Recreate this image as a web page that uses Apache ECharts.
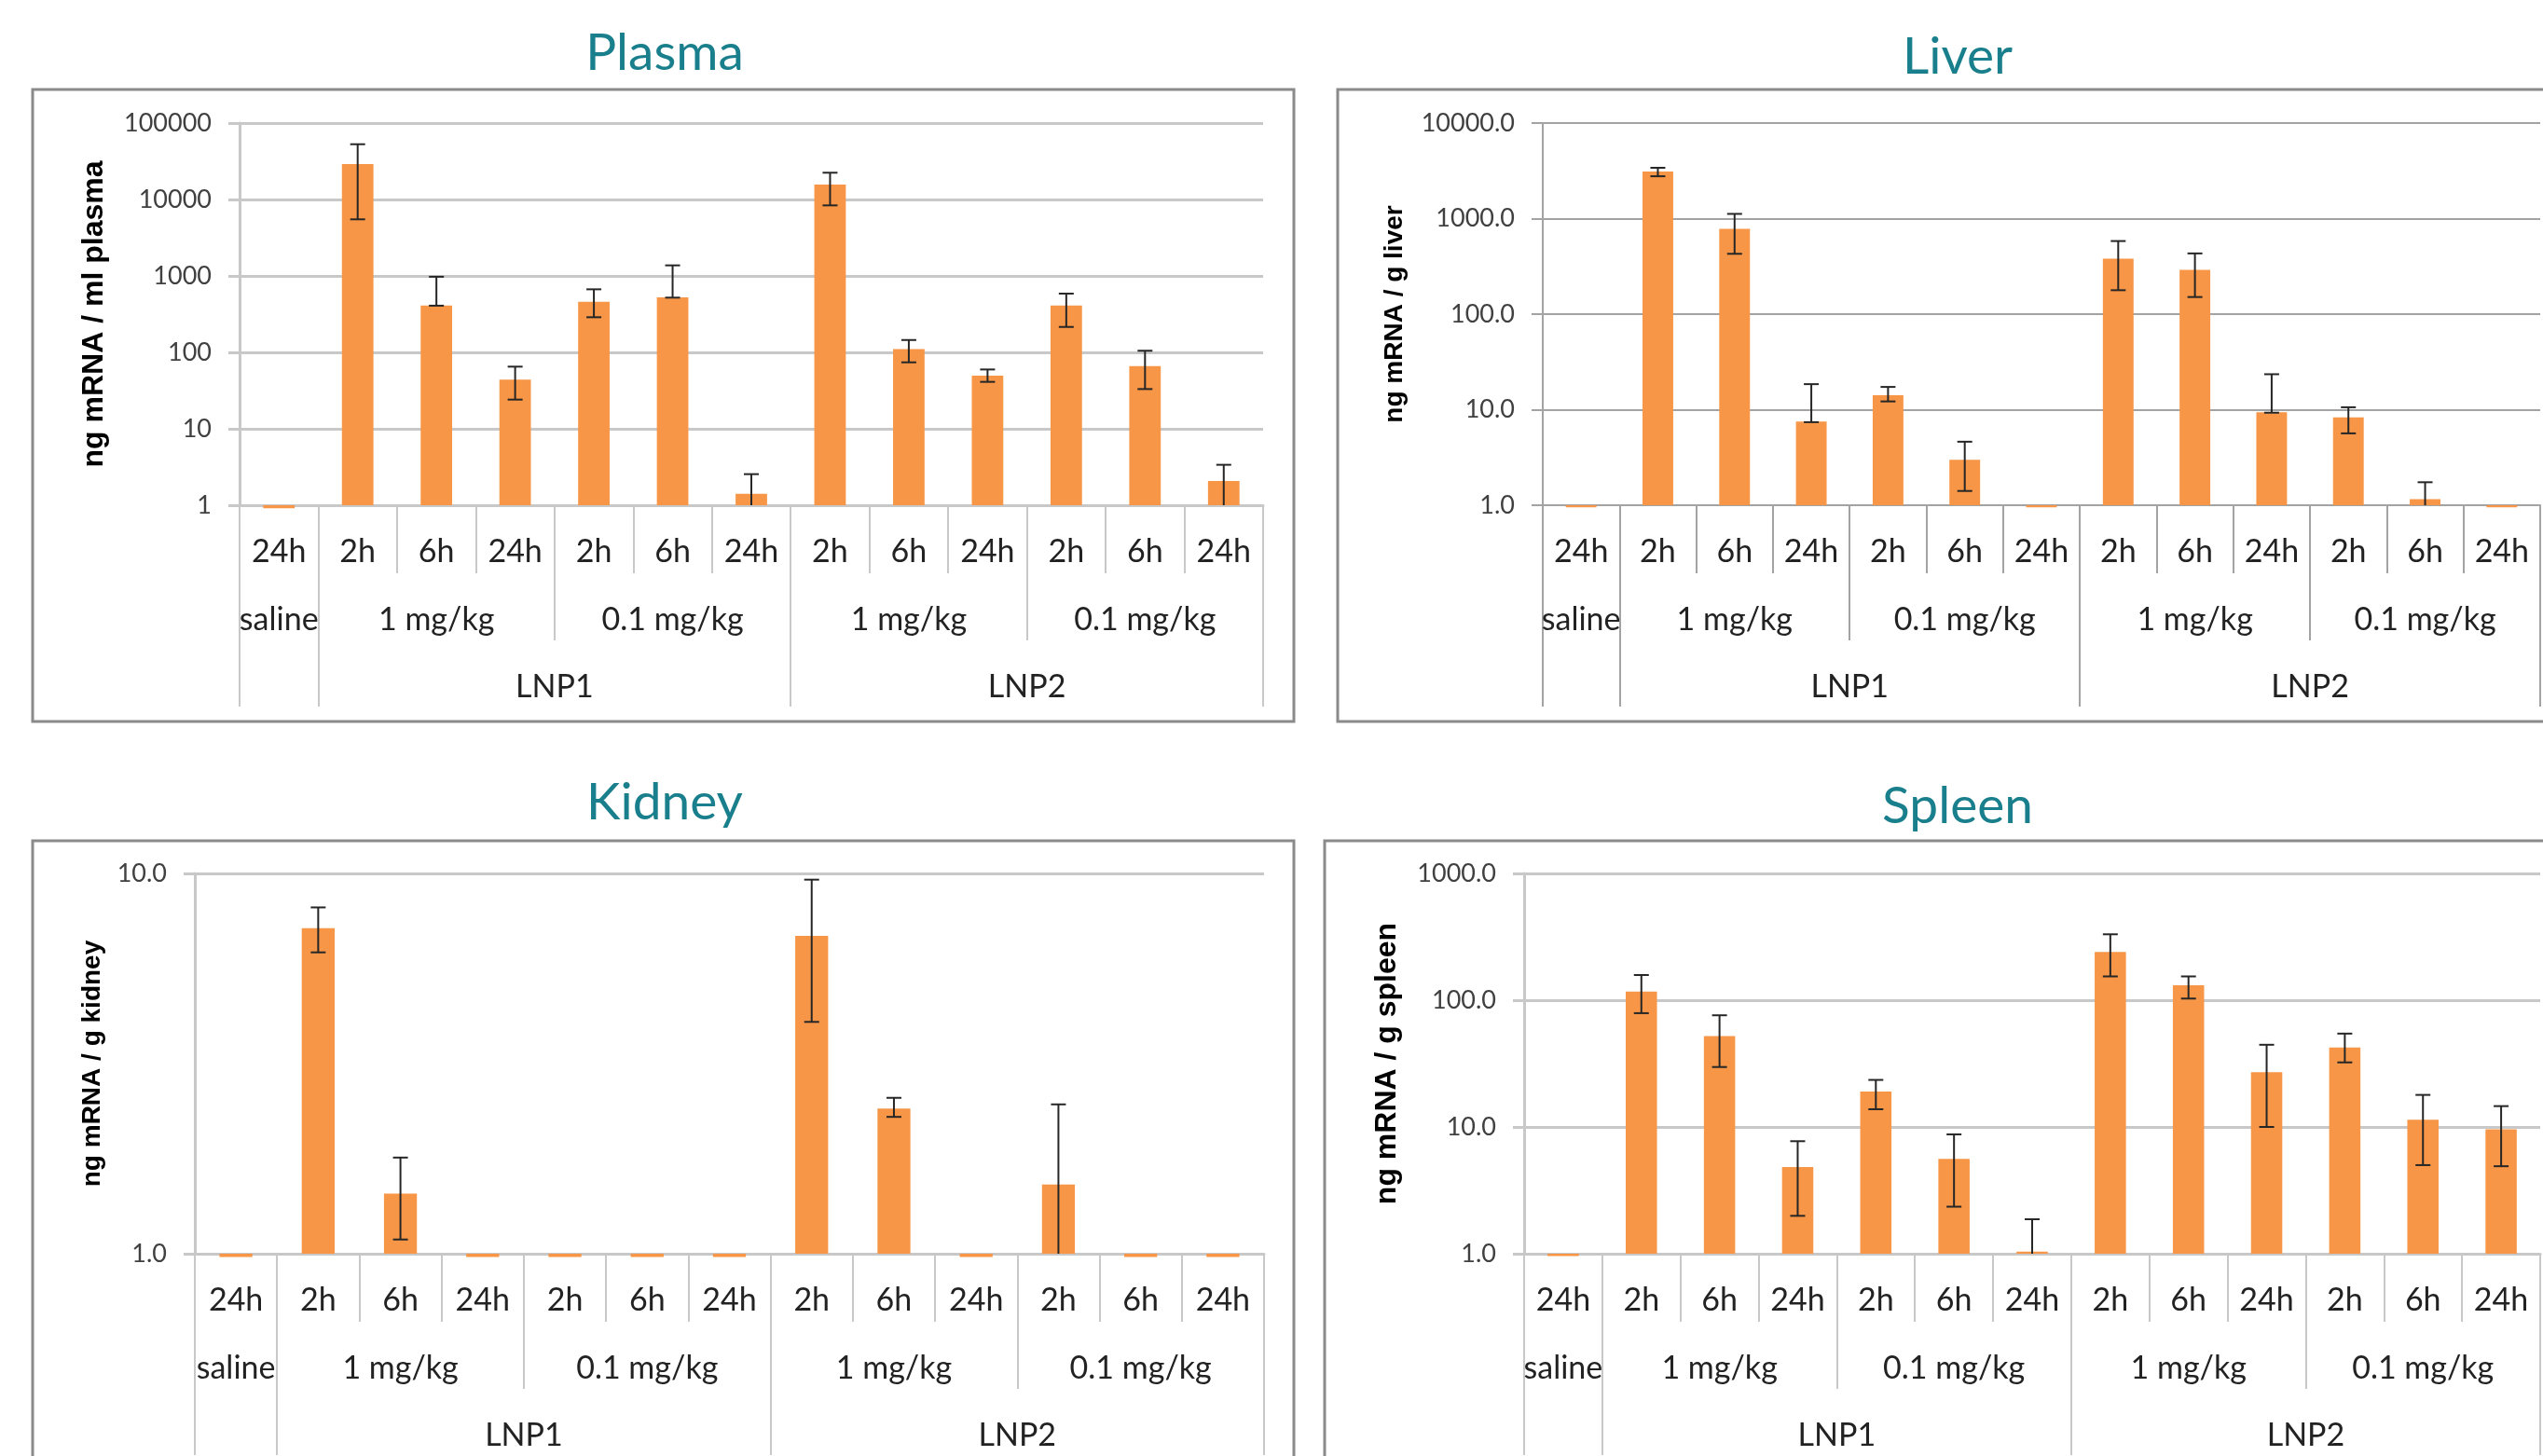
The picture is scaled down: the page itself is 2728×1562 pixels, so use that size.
<!DOCTYPE html>
<html><head><meta charset="utf-8">
<script src="https://cdn.jsdelivr.net/npm/echarts@6/dist/echarts.min.js"></script>
<style>html,body{margin:0;padding:0;background:#fff;overflow:hidden}#c{width:2728px;height:1562px}</style>
</head><body><div id="c"></div>
<script>
// ---- categories ----
const timeLabels = ['24h','2h','6h','24h','2h','6h','24h','2h','6h','24h','2h','6h','24h'];
const doseGroups = [['saline',1],['1 mg/kg',3],['0.1 mg/kg',3],['1 mg/kg',3],['0.1 mg/kg',3]];
const lnpGroups = [['',1],['LNP1',6],['LNP2',6]];

// ---- tick labels ----
const plasmaTicks = ['1','10','100','1000','10000','100000'];
const liverTicks  = ['1.0','10.0','100.0','1000.0','10000.0'];
const kidneyTicks = ['1.0','10.0'];
const spleenTicks = ['1.0','10.0','100.0','1000.0'];

// ---- values (mean, error low, error high) ----
const plasmaValues  = [0.91, 29000, 411, 43.9, 460, 525, 1.41, 15700, 110, 49.6, 411, 66.2, 2.07];
const plasmaErrLow  = [null, 5500, 408, 24.1, 288, 520, 0.3, 8370, 74, 41.1, 215, 33.1, 0.8];
const plasmaErrHigh = [null, 52800, 975, 65, 668, 1374, 2.55, 22400, 145, 59.7, 587, 105, 3.38];

const liverValues  = [0.95, 3105, 781, 7.52, 14.2, 2.99, 0.95, 380, 290, 9.42, 8.29, 1.16, 0.95];
const liverErrLow  = [null, 2773, 428, 7.4, 12.2, 1.41, null, 178, 151, 9.3, 5.65, 0.6, null];
const liverErrHigh = [null, 3400, 1120, 18.5, 17.3, 4.62, null, 582, 432, 23.5, 10.6, 1.74, null];

const kidneyValues  = [0.98, 7.18, 1.44, 0.98, 0.98, 0.98, 0.98, 6.85, 2.41, 0.98, 1.52, 0.98, 0.98];
const kidneyErrLow  = [null, 6.2, 1.09, null, null, null, null, 4.07, 2.29, null, 0.57, null, null];
const kidneyErrHigh = [null, 8.14, 1.79, null, null, null, null, 9.63, 2.57, null, 2.47, null, null];

const spleenValues  = [0.96, 117, 52, 4.82, 19.0, 5.61, 1.04, 240, 131, 27, 42.4, 11.4, 9.6];
const spleenErrLow  = [null, 79, 29.7, 1.99, 13.8, 2.35, 0.2, 154, 103, 10, 32.3, 5.0, 4.9];
const spleenErrHigh = [null, 158, 76, 7.72, 23.5, 8.74, 1.87, 331, 154, 44.5, 54.5, 17.9, 14.6];

const panels = [
  {title:'Plasma', yName:'ng mRNA / ml plasma', values:plasmaValues, low:plasmaErrLow, high:plasmaErrHigh,
   ticks:plasmaTicks, min:1, max:100000, grid:{left:257, top:132, width:1098, height:410},
   titlePos:[713,57], box:[35,96,1353,678], nameSize:32, nameGap:140, line:'#c8c8c8', lw:3},
  {title:'Liver', yName:'ng mRNA / g liver', values:liverValues, low:liverErrLow, high:liverErrHigh,
   ticks:liverTicks, min:1, max:10000, grid:{left:1655, top:132, width:1074, height:410},
   titlePos:[2100,61], box:[1435,96,1400,678], nameSize:28, nameGap:145, line:'#a3a3a3', lw:2},
  {title:'Kidney', yName:'ng mRNA / g kidney', values:kidneyValues, low:kidneyErrLow, high:kidneyErrHigh,
   ticks:kidneyTicks, min:1, max:10, grid:{left:209, top:937, width:1147, height:408},
   titlePos:[713,861], box:[35,902,1353,700], nameSize:28, nameGap:96, line:'#c8c8c8', lw:3},
  {title:'Spleen', yName:'ng mRNA / g spleen', values:spleenValues, low:spleenErrLow, high:spleenErrHigh,
   ticks:spleenTicks, min:1, max:1000, grid:{left:1635, top:937, width:1108, height:408},
   titlePos:[2100,865], box:[1421,902,1400,700], nameSize:32, nameGap:131, line:'#c8c8c8', lw:3}
];

// dose level: labels at group centres, ticks at group starts (band axis)
const doseLabelAt = {}, doseTickAt = {};
(function(){ let s = 0; doseGroups.forEach(([lab, span]) => { doseTickAt[s] = true; doseLabelAt[s + Math.floor(span/2)] = lab; s += span; }); })();
// LNP level: boundary points 0..13 (point axis)
const lnpLabelAt = {}, lnpTickAt = {};
(function(){ let s = 0; lnpGroups.forEach(([lab, span]) => { lnpTickAt[s] = true; if (lab) lnpLabelAt[s + span/2] = lab; s += span; }); lnpTickAt[s] = true; })();
const nCat = timeLabels.length;
const doseData = timeLabels.map((_, i) => 'd' + i);
const lnpData = Array.from({length: nCat + 1}, (_, i) => 'p' + i);

const catFont = {fontFamily:'Lato', fontSize:34, color:'#222'};
const option = {animation:false, backgroundColor:'#fff', title:[], grid:[], xAxis:[], yAxis:[], series:[], graphic:[]};

panels.forEach((p, k) => {
  option.graphic.push({type:'rect', silent:true, z:-10,
    shape:{x:p.box[0], y:p.box[1], width:p.box[2], height:p.box[3]},
    style:{fill:'none', stroke:'#8a8a8a', lineWidth:3}});
  option.title.push({text:p.title, left:p.titlePos[0], top:p.titlePos[1], padding:0,
    textAlign:'center', textVerticalAlign:'middle',
    textStyle:{fontFamily:'Lato', fontSize:55, fontWeight:'normal', color:'#1a7f8c'}});
  option.grid.push(Object.assign({containLabel:false}, p.grid));
  const tickStyle = {color:p.line, width:2};
  // time level
  option.xAxis.push({type:'category', gridIndex:k, position:'bottom', data:timeLabels,
    axisLine:{show:true, onZero:false, lineStyle:{color:p.line, width:p.lw}},
    axisTick:{show:true, interval:0, length:73, lineStyle:tickStyle},
    axisLabel:{interval:0, margin:50, verticalAlign:'middle', ...catFont},
    splitLine:{show:false}});
  // dose level
  option.xAxis.push({type:'category', gridIndex:k, position:'bottom', data:doseData,
    axisLine:{show:false, onZero:false},
    axisTick:{show:true, interval:(i) => !!doseTickAt[i], length:145, lineStyle:tickStyle},
    axisLabel:{interval:0, margin:123, verticalAlign:'middle', formatter:(v, i) => doseLabelAt[i] || '', ...catFont},
    splitLine:{show:false}});
  // LNP level
  option.xAxis.push({type:'category', gridIndex:k, position:'bottom', data:lnpData, boundaryGap:false,
    axisLine:{show:false, onZero:false},
    axisTick:{show:true, interval:(i) => !!lnpTickAt[i], length:216, lineStyle:tickStyle},
    axisLabel:{interval:0, margin:195, verticalAlign:'middle', formatter:(v, i) => lnpLabelAt[i] || '', ...catFont},
    splitLine:{show:false}});
  option.yAxis.push({type:'log', logBase:10, gridIndex:k, min:p.min, max:p.max,
    name:p.yName, nameLocation:'middle', nameRotate:90, nameGap:p.nameGap, nameMoveOverlap:false,
    nameTextStyle:{fontFamily:'Liberation Sans', fontWeight:'bold', fontSize:p.nameSize, color:'#000'},
    axisLine:{show:true, lineStyle:{color:p.line, width:p.lw}},
    axisTick:{show:true, inside:false, length:12, lineStyle:{color:p.line, width:p.lw}},
    minorTick:{show:false},
    splitLine:{show:true, lineStyle:{color:p.line, width:p.lw}},
    axisLabel:{margin:30, fontFamily:'Lato', fontSize:27, color:'#404040',
      formatter:(v) => p.ticks[Math.round(Math.log10(v))] || ''}});
  option.series.push({type:'bar', xAxisIndex:k*3, yAxisIndex:k, data:p.values, barWidth:'40%',
    clip:false, itemStyle:{color:'#F79646'}, z:2});
  const errData = [];
  p.high.forEach((h, i) => { if (h != null) errData.push([i, p.low[i], h]); });
  option.series.push({type:'custom', xAxisIndex:k*3, yAxisIndex:k, data:errData, z:3, clip:false,
    encode:{x:0, y:[1,2]},
    renderItem:(params, api) => {
      const x = api.value(0), lo = api.value(1), hi = api.value(2);
      const clamped = lo <= p.min;
      const top = api.coord([x, hi]);
      const bot = api.coord([x, clamped ? p.min : lo]);
      const hw = 8, st = {stroke:'#262626', lineWidth:2};
      const ch = [
        {type:'line', shape:{x1:top[0], y1:top[1], x2:bot[0], y2:bot[1]}, style:st},
        {type:'line', shape:{x1:top[0]-hw, y1:top[1], x2:top[0]+hw, y2:top[1]}, style:st}
      ];
      if (!clamped) ch.push({type:'line', shape:{x1:bot[0]-hw, y1:bot[1], x2:bot[0]+hw, y2:bot[1]}, style:st});
      return {type:'group', children:ch};
    }});
});

const chart = echarts.init(document.getElementById('c'), null, {renderer:'canvas'});
chart.setOption(option);
</script>
</body></html>
